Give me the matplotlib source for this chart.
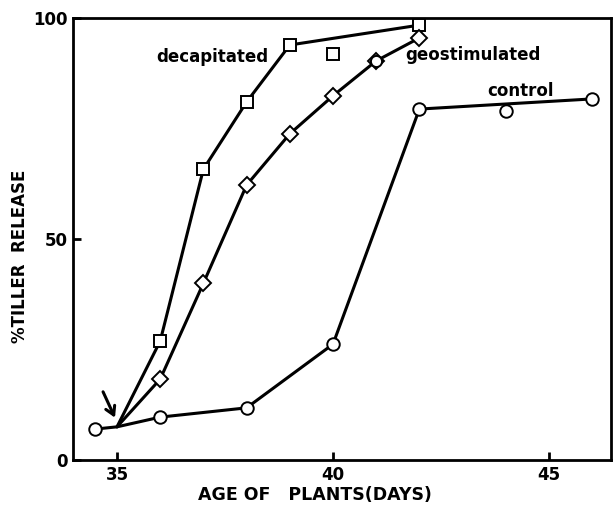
import matplotlib
matplotlib.use("Agg")
import matplotlib.pyplot as plt

# --- data ---
start_x, start_y = 35.0, 7.5  # common origin (arrow)

control_x = [34.5, 36, 38, 40, 42, 44, 46]
control_y = [7.0, 9.7, 11.8, 26.2, 79.4, 79.0, 81.7]
control_line_x = [34.5, start_x, 36, 38, 40, 42, 46]
control_line_y = [7.0, start_y, 9.7, 11.8, 26.2, 79.4, 81.7]

decap_x = [36, 37, 38, 39, 40, 42]
decap_y = [26.9, 65.8, 81.0, 93.9, 91.9, 98.4]
decap_line_x = [start_x, 36, 37, 38, 39, 42]
decap_line_y = [start_y, 26.9, 65.8, 81.0, 93.9, 98.4]

geo_x = [36, 37, 38, 39, 40, 41, 42]
geo_y = [18.3, 40.0, 62.2, 73.8, 82.4, 90.3, 95.5]
geo_line_x = [start_x] + geo_x
geo_line_y = [start_y] + geo_y
geo_extra_circle_x = [41]
geo_extra_circle_y = [90.3]

x_ticks = [35, 40, 45]
y_ticks = [0, 50, 100]

fig = plt.figure(figsize=(6.13, 5.08), dpi=100)
ax = fig.add_axes([0.119, 0.0945, 0.878, 0.870])

lw = 2.2
mk = dict(markerfacecolor="white", markeredgecolor="black", markeredgewidth=1.4, linestyle="none")

ax.plot(control_line_x, control_line_y, color="black", lw=lw, solid_capstyle="round", zorder=2)
ax.plot(decap_line_x, decap_line_y, color="black", lw=lw, solid_capstyle="round", zorder=2)
ax.plot(geo_line_x, geo_line_y, color="black", lw=lw, solid_capstyle="round", zorder=2)

ax.plot(control_x, control_y, marker="o", markersize=9, zorder=3, **mk)
ax.plot(decap_x, decap_y, marker="s", markersize=8.5, zorder=3, **mk)
ax.plot(geo_x, geo_y, marker="D", markersize=8, zorder=3, **mk)
ax.plot(geo_extra_circle_x, geo_extra_circle_y, marker="o", markersize=8, zorder=4, **mk)

ax.annotate("", xy=(34.98, 9.0), xytext=(34.65, 16.0),
            arrowprops=dict(arrowstyle="->,head_length=0.6,head_width=0.35", lw=2.2, color="black"))

txt = dict(fontweight="bold", fontsize=12, color="black", family="DejaVu Sans")
ax.text(37.2, 91.2, "decapitated", ha="center", va="center", **txt)
ax.text(43.25, 91.6, "geostimulated", ha="center", va="center", **txt)
ax.text(44.35, 83.6, "control", ha="center", va="center", **txt)

ax.set_xlim(33.98, 46.44)
ax.set_ylim(0, 100)
ax.set_xticks(x_ticks)
ax.set_yticks(y_ticks)
ax.tick_params(direction="in", length=6, width=2, labelsize=12, pad=4)
for lab in ax.get_xticklabels() + ax.get_yticklabels():
    lab.set_fontweight("bold")
for s in ax.spines.values():
    s.set_linewidth(2)

ax.set_xlabel("AGE OF   PLANTS(DAYS)", fontsize=12.5, fontweight="bold", va="top")
ax.xaxis.set_label_coords(0.45, -0.058)
ax.set_ylabel("%TILLER  RELEASE", fontsize=12, fontweight="bold")
ax.yaxis.set_label_coords(-0.082, 0.46)

fig.savefig("out.png", dpi=100)
